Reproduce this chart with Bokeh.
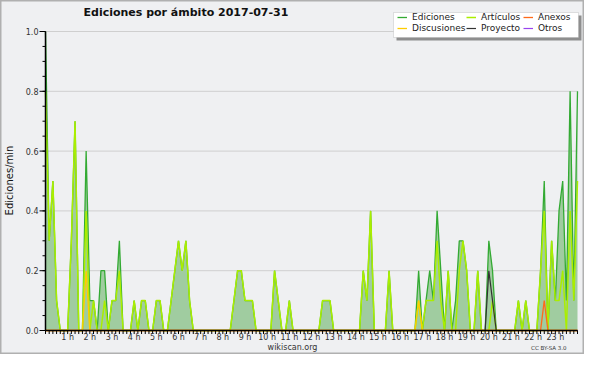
from math import pi
from bokeh.plotting import figure
from bokeh.models import Label, Legend, LegendItem, Range1d, BoxAnnotation
from bokeh.embed import file_html
from bokeh.resources import INLINE
from bokeh.core.properties import value

# 10-minute bins, 0:00 .. 24:00 (145 points), values in edits/min
n_bins = 145
hours = [i / 6 for i in range(n_bins)]

ediciones = [1.0, 0.3, 0.5, 0.1, 0, 0, 0, 0.3, 0.7, 0, 0, 0.6, 0.1, 0.1, 0, 0.2, 0.2, 0, 0.1, 0.1,
             0.3, 0, 0, 0, 0.1, 0, 0.1, 0.1, 0, 0, 0.1, 0.1, 0, 0, 0.1, 0.2, 0.3, 0.2, 0.3, 0.1,
             0, 0, 0, 0, 0, 0, 0, 0, 0, 0, 0, 0.1, 0.2, 0.2, 0.1, 0.1, 0.1, 0, 0, 0,
             0, 0, 0.2, 0.1, 0, 0, 0.1, 0, 0, 0, 0, 0, 0, 0, 0, 0.1, 0.1, 0.1, 0, 0,
             0, 0, 0, 0, 0, 0, 0.2, 0.1, 0.4, 0, 0, 0, 0, 0.2, 0, 0, 0, 0, 0, 0,
             0, 0.2, 0, 0.1, 0.2, 0.1, 0.4, 0.2, 0, 0.2, 0, 0.1, 0.3, 0.3, 0.2, 0, 0, 0.2, 0, 0,
             0.3, 0.2, 0, 0, 0, 0, 0, 0, 0.1, 0, 0.1, 0, 0, 0, 0.2, 0.5, 0, 0.3, 0.1, 0.4,
             0.5, 0.1, 0.8, 0.1, 0.8]
articulos = [0.8, 0.3, 0.5, 0.1, 0, 0, 0, 0.3, 0.7, 0, 0, 0.4, 0, 0.1, 0, 0, 0.1, 0, 0.1, 0.1,
             0.2, 0, 0, 0, 0.1, 0, 0.1, 0.1, 0, 0, 0.1, 0.1, 0, 0, 0.1, 0.2, 0.3, 0.2, 0.3, 0.1,
             0, 0, 0, 0, 0, 0, 0, 0, 0, 0, 0, 0.1, 0.2, 0.2, 0.1, 0.1, 0.1, 0, 0, 0,
             0, 0, 0.2, 0.1, 0, 0, 0.1, 0, 0, 0, 0, 0, 0, 0, 0, 0.1, 0.1, 0.1, 0, 0,
             0, 0, 0, 0, 0, 0, 0.2, 0.1, 0.4, 0, 0, 0, 0, 0.2, 0, 0, 0, 0, 0, 0,
             0, 0.1, 0, 0.1, 0.1, 0.1, 0.3, 0.1, 0, 0.2, 0, 0, 0.2, 0.3, 0.2, 0, 0, 0.2, 0, 0,
             0, 0.1, 0, 0, 0, 0, 0, 0, 0.1, 0, 0.1, 0, 0, 0, 0.2, 0.4, 0, 0.3, 0.1, 0.1,
             0.2, 0, 0.4, 0.1, 0.5]
discusiones = [0.0] * n_bins
discusiones[11] = 0.2
discusiones[101] = 0.1
proyecto = [0.0] * n_bins
proyecto[120] = 0.2
proyecto[121] = 0.1
anexos = [0.0] * n_bins
anexos[135] = 0.1
otros = [0.0] * n_bins

y_ticks = [0.0, 0.2, 0.4, 0.6, 0.8, 1.0]
y_tick_labels = ["0.0", "0.2", "0.4", "0.6", "0.8", "1.0"]
y_minor = [k * 0.05 for k in range(21)]
hour_ticks = list(range(1, 24))
hour_labels = [f"{h} h" for h in hour_ticks]

# ---- layout (pixels in the canvas) ----
W, H = 584, 354
PX0, PX1 = 45, 577      # plot area left/right
PYT, PYB = 31, 330      # plot area top/bottom
XMIN, XMAX = 0, 24
YMIN, YMAX = 0.0, 1.0
sx = (PX1 - PX0) / (XMAX - XMIN)
sy = (PYB - PYT) / (YMAX - YMIN)
x_rng = Range1d(XMIN - PX0 / sx, XMAX + (W - PX1) / sx)
y_rng = Range1d(YMIN - (H - PYB) / sy, YMAX + PYT / sy)


def dx(px):
    return XMIN + (px - PX0) / sx


def dy(py):
    return YMAX + (PYT - py) / sy


BG = "#eff0f2"
FONT = "DejaVu Sans"

p = figure(width=W, height=H, output_backend="svg", toolbar_location=None,
           x_range=x_rng, y_range=y_rng, x_axis_location=None, y_axis_location=None,
           min_border=0)
p.background_fill_color = BG
p.border_fill_color = BG
p.outline_line_color = "#b0b0b0"
p.outline_line_width = 2
p.grid.visible = False

# grid
p.segment(x0=[XMIN] * 5, x1=[XMAX] * 5, y0=y_ticks[1:], y1=y_ticks[1:],
          line_color="#cfcfcf", line_width=1)

# data
p.varea(x=hours, y1=[0] * n_bins, y2=ediciones, fill_color="#a0cca0", fill_alpha=1.0)
r_ed = p.line(hours, ediciones, line_color="#33aa33", line_width=1.3)
r_ar = p.line(hours, articulos, line_color="#aaee00", line_width=1.5)
r_di = p.line(hours, discusiones, line_color="#ffcc00", line_width=1.3)
r_an = p.line(hours, anexos, line_color="#ff6a1a", line_width=1.3)
r_pr = p.line(hours, proyecto, line_color="#333333", line_width=1.2)
r_ot = p.line(hours, otros, line_color="#9944ee", line_width=1.2)

# axes lines & ticks
p.segment(x0=[XMIN], x1=[XMIN], y0=[YMIN], y1=[YMAX], line_color="black", line_width=1.5)
p.segment(x0=[XMIN], x1=[XMAX], y0=[YMIN], y1=[YMIN], line_color="black", line_width=1.5)
p.segment(x0=[XMIN - 6 / sx] * len(y_ticks), x1=[XMIN] * len(y_ticks), y0=y_ticks, y1=y_ticks,
          line_color="black", line_width=1)
p.segment(x0=[XMIN - 3 / sx] * len(y_minor), x1=[XMIN] * len(y_minor), y0=y_minor, y1=y_minor,
          line_color="black", line_width=1)
p.segment(x0=hours, x1=hours, y0=[YMIN] * n_bins, y1=[YMIN - 3.5 / sy] * n_bins,
          line_color="black", line_width=1)

# tick labels
p.text(x=[XMIN - 7 / sx] * len(y_ticks), y=y_ticks, text=y_tick_labels,
       text_font=value(FONT), text_font_size="8px", text_color="#333333",
       text_align="right", text_baseline="middle")
p.text(x=hour_ticks, y=[YMIN - 7 / sy] * len(hour_ticks), text=hour_labels,
       text_font=value(FONT), text_font_size="8px", text_color="#333333",
       text_align="center", text_baseline="middle")

# legend box with shadow
LB_L, LB_R, LB_T, LB_B = 393, 578, 12, 37
p.add_layout(BoxAnnotation(left=dx(LB_L + 3), right=dx(LB_R + 3), top=dy(LB_T + 3),
                           bottom=dy(LB_B + 3), fill_color="#8e8e8e", fill_alpha=1.0,
                           line_color=None))
p.add_layout(BoxAnnotation(left=dx(LB_L), right=dx(LB_R), top=dy(LB_T), bottom=dy(LB_B),
                           fill_color="white", fill_alpha=1.0, line_color="#a0a0a0",
                           line_width=1))

legend_columns = [
    ([("Ediciones", r_ed), ("Discusiones", r_di)], 397),
    ([("Artículos", r_ar), ("Proyecto", r_pr)], 466),
    ([("Anexos", r_an), ("Otros", r_ot)], 523),
]
for entries, left_px in legend_columns:
    lg = Legend(items=[LegendItem(label=t, renderers=[r]) for t, r in entries],
                location=(left_px, H - 33), orientation="vertical")
    lg.background_fill_alpha = 0.0
    lg.border_line_color = None
    lg.label_text_font = FONT
    lg.label_text_font_size = "9px"
    lg.label_text_color = "#222222"
    lg.glyph_width = 10
    lg.glyph_height = 8
    lg.label_height = 9
    lg.label_standoff = 5
    lg.spacing = 1
    lg.padding = 0
    lg.margin = 0
    p.add_layout(lg, "center")

p.add_layout(Label(x=83, y=H - 12, x_units="screen", y_units="screen",
                   text="Ediciones por ámbito  2017-07-31", text_font=FONT,
                   text_font_style="bold", text_font_size="11px", text_baseline="middle",
                   text_color="#111111"))
p.add_layout(Label(x=9, y=H - 180, x_units="screen", y_units="screen", angle=pi / 2,
                   text="Ediciones/min", text_font=FONT, text_font_size="10px",
                   text_align="center", text_baseline="middle", text_color="#111111"))
p.add_layout(Label(x=292, y=H - 347, x_units="screen", y_units="screen", text="wikiscan.org",
                   text_font=FONT, text_font_size="8px", text_align="center",
                   text_baseline="middle", text_color="#333333"))
p.add_layout(Label(x=566, y=H - 347, x_units="screen", y_units="screen", text="CC BY-SA 3.0",
                   text_font=FONT, text_font_size="5.5px", text_align="right",
                   text_baseline="middle", text_color="#333333"))

open("out.html", "w").write(file_html(p, INLINE))
